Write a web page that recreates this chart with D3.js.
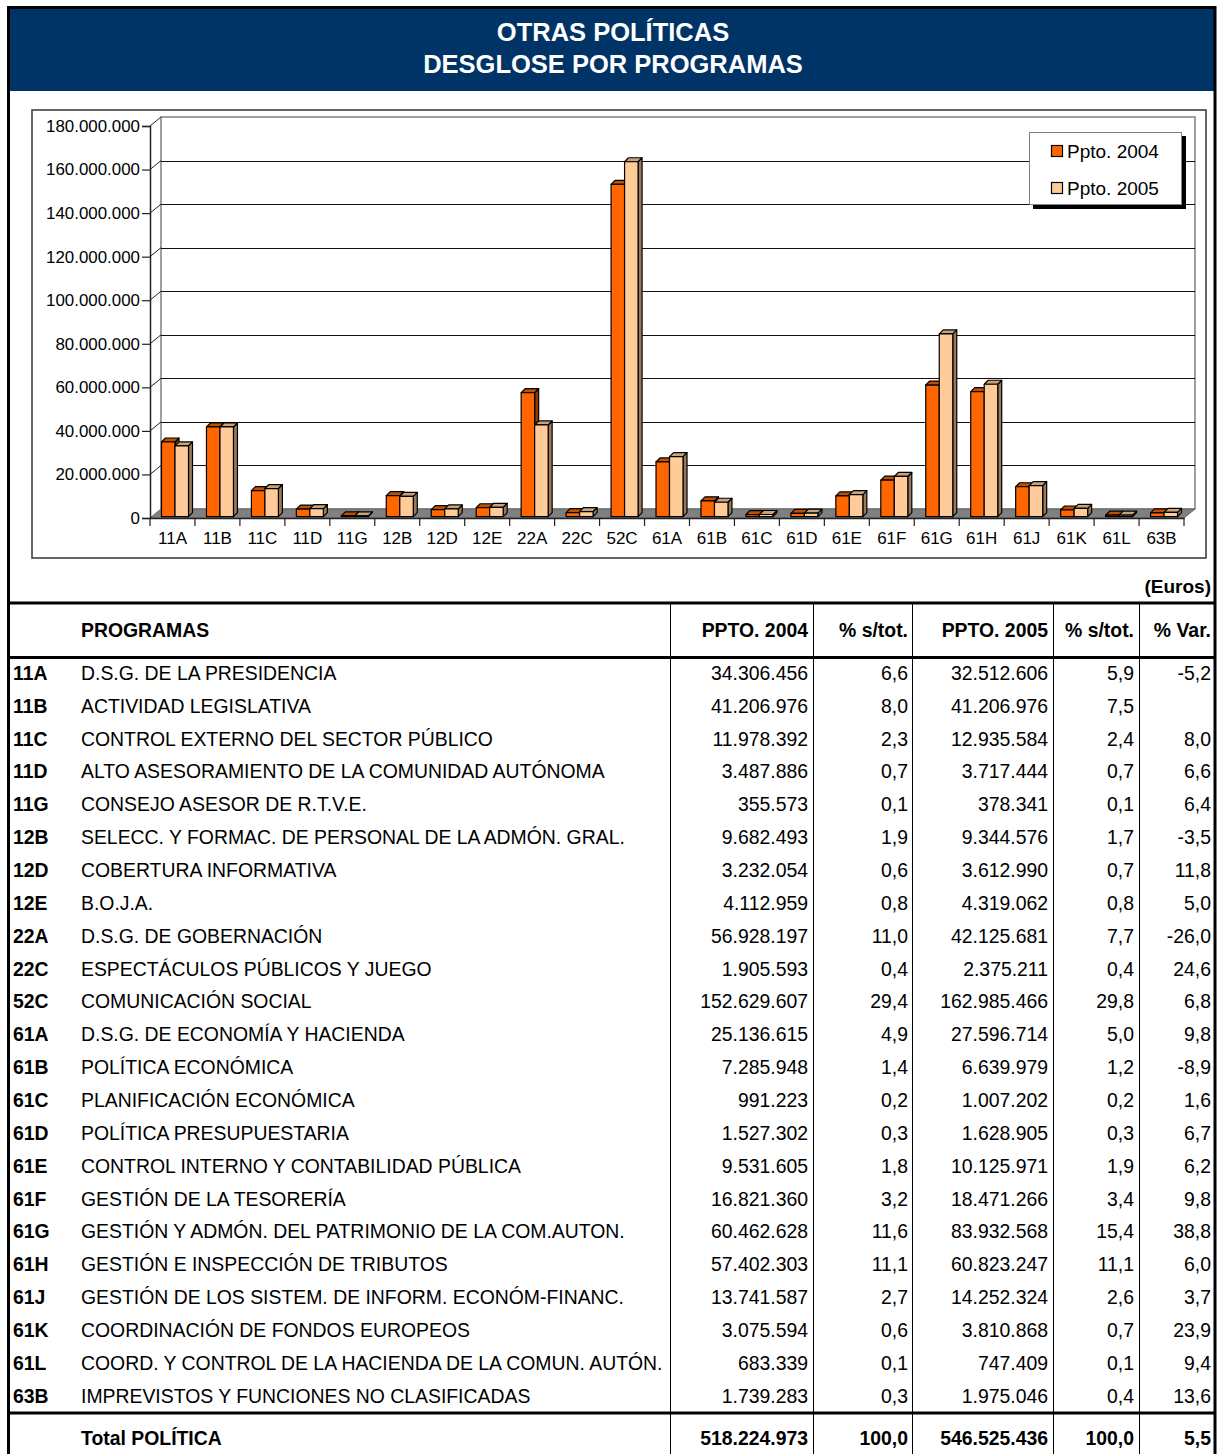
<!DOCTYPE html>
<html><head><meta charset="utf-8">
<script src="https://cdn.jsdelivr.net/npm/d3@7"></script>
<style>
body{margin:0;background:#fff;}
svg{display:block;font-family:"Liberation Sans",Arial,sans-serif;}
</style></head>
<body><svg id="c" width="1221" height="1454"></svg>
<script>
const categories = ['11A','11B','11C','11D','11G','12B','12D','12E','22A','22C','52C','61A','61B','61C','61D','61E','61F','61G','61H','61J','61K','61L','63B'];
const names = ['D.S.G. DE LA PRESIDENCIA','ACTIVIDAD LEGISLATIVA','CONTROL EXTERNO DEL SECTOR PÚBLICO','ALTO ASESORAMIENTO DE LA COMUNIDAD AUTÓNOMA','CONSEJO ASESOR DE R.T.V.E.','SELECC. Y FORMAC. DE PERSONAL DE LA ADMÓN. GRAL.','COBERTURA INFORMATIVA','B.O.J.A.','D.S.G. DE GOBERNACIÓN','ESPECTÁCULOS PÚBLICOS Y JUEGO','COMUNICACIÓN SOCIAL','D.S.G. DE ECONOMÍA Y HACIENDA','POLÍTICA ECONÓMICA','PLANIFICACIÓN ECONÓMICA','POLÍTICA PRESUPUESTARIA','CONTROL INTERNO Y CONTABILIDAD PÚBLICA','GESTIÓN DE LA TESORERÍA','GESTIÓN Y ADMÓN. DEL PATRIMONIO DE LA COM.AUTON.','GESTIÓN E INSPECCIÓN DE TRIBUTOS','GESTIÓN DE LOS SISTEM. DE INFORM. ECONÓM-FINANC.','COORDINACIÓN DE FONDOS EUROPEOS','COORD. Y CONTROL DE LA HACIENDA DE LA COMUN. AUTÓN.','IMPREVISTOS Y FUNCIONES NO CLASIFICADAS'];
const ppto2004 = [34306456,41206976,11978392,3487886,355573,9682493,3232054,4112959,56928197,1905593,152629607,25136615,7285948,991223,1527302,9531605,16821360,60462628,57402303,13741587,3075594,683339,1739283];
const pct2004 = ['6,6','8,0','2,3','0,7','0,1','1,9','0,6','0,8','11,0','0,4','29,4','4,9','1,4','0,2','0,3','1,8','3,2','11,6','11,1','2,7','0,6','0,1','0,3'];
const ppto2005 = [32512606,41206976,12935584,3717444,378341,9344576,3612990,4319062,42125681,2375211,162985466,27596714,6639979,1007202,1628905,10125971,18471266,83932568,60823247,14252324,3810868,747409,1975046];
const pct2005 = ['5,9','7,5','2,4','0,7','0,1','1,7','0,7','0,8','7,7','0,4','29,8','5,0','1,2','0,2','0,3','1,9','3,4','15,4','11,1','2,6','0,7','0,1','0,4'];
const pctVar = ['-5,2','','8,0','6,6','6,4','-3,5','11,8','5,0','-26,0','24,6','6,8','9,8','-8,9','1,6','6,7','6,2','9,8','38,8','6,0','3,7','23,9','9,4','13,6'];
const totalRow = {label:'Total POLÍTICA', p04:518224973, s04:'100,0', p05:546525436, s05:'100,0', v:'5,5'};
const yTicks = [0,20000000,40000000,60000000,80000000,100000000,120000000,140000000,160000000,180000000];
const seriesNames = ['Ppto. 2004','Ppto. 2005'];
const seriesColors = [{front:'#FF6600',top:'#C24E00',side:'#8F3A00'},{front:'#FFCC99',top:'#C9A27A',side:'#977A5C'}];
const titleLines = ['OTRAS POLÍTICAS','DESGLOSE POR PROGRAMAS'];
const headers = ['PROGRAMAS','PPTO. 2004','% s/tot.','PPTO. 2005','% s/tot.','% Var.'];

const loc = d3.formatLocale({decimal:',',thousands:'.',grouping:[3],currency:['','']});
const fmt = loc.format(',d');

const svg = d3.select('#c');

// title band
svg.append('rect').attr('x',10).attr('y',9).attr('width',1205).attr('height',82).attr('fill','#003366');
svg.selectAll('.title').data(titleLines).join('text')
  .attr('x',613).attr('y',(d,i)=>41+i*32).attr('text-anchor','middle')
  .attr('fill','#fff').attr('font-weight','bold').attr('font-size',25.5).text(d=>d);

// chart box
svg.append('rect').attr('x',32).attr('y',110).attr('width',1174).attr('height',448)
  .attr('fill','#fff').attr('stroke','#333').attr('stroke-width',1.5);

// scales
const DX = 11, DY = -9;
const y = d3.scaleLinear().domain([0,180000000]).range([518,126]);
const x = d3.scaleBand().domain(categories).range([150,1184]);
const xs = d3.scaleBand().domain(seriesNames).range([12.5,39.5]);

const g = svg.append('g');
// back wall
g.append('rect').attr('x',150+DX).attr('y',y(180000000)+DY).attr('width',1184-150).attr('height',y(0)-y(180000000))
  .attr('fill','#fff').attr('stroke','#808080').attr('stroke-width',1.5);
// floor
g.append('path').attr('d',`M150,${y(0)} L1184,${y(0)} L${1184+DX},${y(0)+DY} L${150+DX},${y(0)+DY} Z`)
  .attr('fill','#808080').attr('stroke','#666').attr('stroke-width',1);
// gridlines
yTicks.filter(t=>t>0 && t<180000000).forEach(t=>{
  g.append('line').attr('x1',150+DX).attr('x2',1184+DX).attr('y1',Math.round(y(t)+DY)+0.5).attr('y2',Math.round(y(t)+DY)+0.5)
   .attr('stroke','#111').attr('stroke-width',1);
});
yTicks.filter(t=>t>0).forEach(t=>{
  g.append('line').attr('x1',150).attr('y1',y(t)).attr('x2',150+DX).attr('y2',y(t)+DY).attr('stroke','#222').attr('stroke-width',1);
});
// y axis
const yAxis = d3.axisLeft(y).tickValues(yTicks).tickSize(8).tickPadding(2).tickFormat(d=>fmt(d));
const ya = svg.append('g').attr('transform','translate(150,0)').call(yAxis);
ya.select('.domain').attr('stroke','#222').attr('stroke-width',1.5);
ya.selectAll('.tick line').attr('stroke','#222').attr('stroke-width',1.2);
ya.selectAll('text').attr('font-size',16.9).attr('fill','#000').attr('font-family','"Liberation Sans",Arial,sans-serif');

// bars
const BD = 4;
const bars = svg.append('g');
categories.forEach((c,i)=>{
  [ppto2004[i],ppto2005[i]].forEach((v,s)=>{
    const x0 = x(c)+xs(seriesNames[s]) - 1, w = xs.bandwidth();
    const yb = y(0)-1.3, yt = y(v)-1.3;
    const col = seriesColors[s];
    const gb = bars.append('g').attr('stroke','#000').attr('stroke-width',1.2).attr('stroke-linejoin','round');
    gb.append('path').attr('d',`M${x0+w},${yb} L${x0+w+BD},${yb-BD} L${x0+w+BD},${yt-BD} L${x0+w},${yt} Z`).attr('fill',col.side);
    gb.append('path').attr('d',`M${x0},${yt} L${x0+BD},${yt-BD} L${x0+w+BD},${yt-BD} L${x0+w},${yt} Z`).attr('fill',col.top);
    gb.append('rect').attr('x',x0).attr('y',yt).attr('width',w).attr('height',Math.max(0,yb-yt)).attr('fill',col.front);
  });
});

// x axis
const xAxis = d3.axisBottom(x).tickSize(0).tickPadding(14);
const xa = svg.append('g').attr('transform',`translate(0,${y(0)})`).call(xAxis);
xa.select('.domain').attr('stroke','#222').attr('stroke-width',1.5);
xa.selectAll('text').attr('font-size',17).attr('fill','#000').attr('font-family','"Liberation Sans",Arial,sans-serif');
const bounds = d3.range(categories.length+1).map(i=>150+i*x.step());
xa.selectAll('.btick').data(bounds).join('line').attr('x1',d=>d).attr('x2',d=>d).attr('y1',0).attr('y2',8)
  .attr('stroke','#222').attr('stroke-width',1.2);

// legend
const lg = svg.append('g');
lg.append('rect').attr('x',1033).attr('y',136).attr('width',153).attr('height',73).attr('fill','#000');
lg.append('rect').attr('x',1029.5).attr('y',132.5).attr('width',152).attr('height',72).attr('fill','#fff').attr('stroke','#808080').attr('stroke-width',1);
seriesNames.forEach((s,i)=>{
  lg.append('rect').attr('x',1051.5).attr('y',145.5+i*37).attr('width',11).attr('height',11).attr('fill',seriesColors[i].front).attr('stroke','#000').attr('stroke-width',1.2);
  lg.append('text').attr('x',1067).attr('y',151+i*37).attr('dy','0.35em').attr('font-size',19).text(s);
});

// Euros label
svg.append('text').attr('x',1211).attr('y',586).attr('dy','0.35em').attr('text-anchor','end').attr('font-weight','bold').attr('font-size',19).text('(Euros)');

// table
const colLines = [670,813,912,1053,1139];
const colRight = [808,908,1048,1134,1211];
const FS = 19.4;
const t = svg.append('g').attr('font-size',FS);
colLines.forEach(cx=>{
  t.append('line').attr('x1',cx+0.5).attr('x2',cx+0.5).attr('y1',603).attr('y2',1454).attr('stroke','#000').attr('stroke-width',1);
});
[603,657.5,1413].forEach(ly=>{
  t.append('line').attr('x1',9).attr('x2',1215).attr('y1',ly).attr('y2',ly).attr('stroke','#000').attr('stroke-width',3);
});
// header
t.append('text').attr('x',81).attr('y',630).attr('dy','0.35em').attr('font-weight','bold').text(headers[0]);
headers.slice(1).forEach((h,i)=>{
  t.append('text').attr('x',colRight[i]).attr('y',630).attr('dy','0.35em').attr('text-anchor','end').attr('font-weight','bold').text(h);
});
const rowY = d3.scaleLinear().domain([0,categories.length-1]).range([673,1396]);
categories.forEach((c,i)=>{
  const yy = rowY(i);
  t.append('text').attr('x',13).attr('y',yy).attr('dy','0.35em').attr('font-weight','bold').text(c);
  t.append('text').attr('x',81).attr('y',yy).attr('dy','0.35em').text(names[i]);
  [fmt(ppto2004[i]),pct2004[i],fmt(ppto2005[i]),pct2005[i],pctVar[i]].forEach((v,k)=>{
    t.append('text').attr('x',colRight[k]).attr('y',yy).attr('dy','0.35em').attr('text-anchor','end').text(v);
  });
});
t.append('text').attr('x',81).attr('y',1438).attr('dy','0.35em').attr('font-weight','bold').text(totalRow.label);
[fmt(totalRow.p04),totalRow.s04,fmt(totalRow.p05),totalRow.s05,totalRow.v].forEach((v,k)=>{
  t.append('text').attr('x',colRight[k]).attr('y',1438).attr('dy','0.35em').attr('text-anchor','end').attr('font-weight','bold').text(v);
});

// outer border
svg.append('rect').attr('x',8.5).attr('y',7.5).attr('width',1206.5).attr('height',1460).attr('fill','none').attr('stroke','#000').attr('stroke-width',3);
</script></body></html>
